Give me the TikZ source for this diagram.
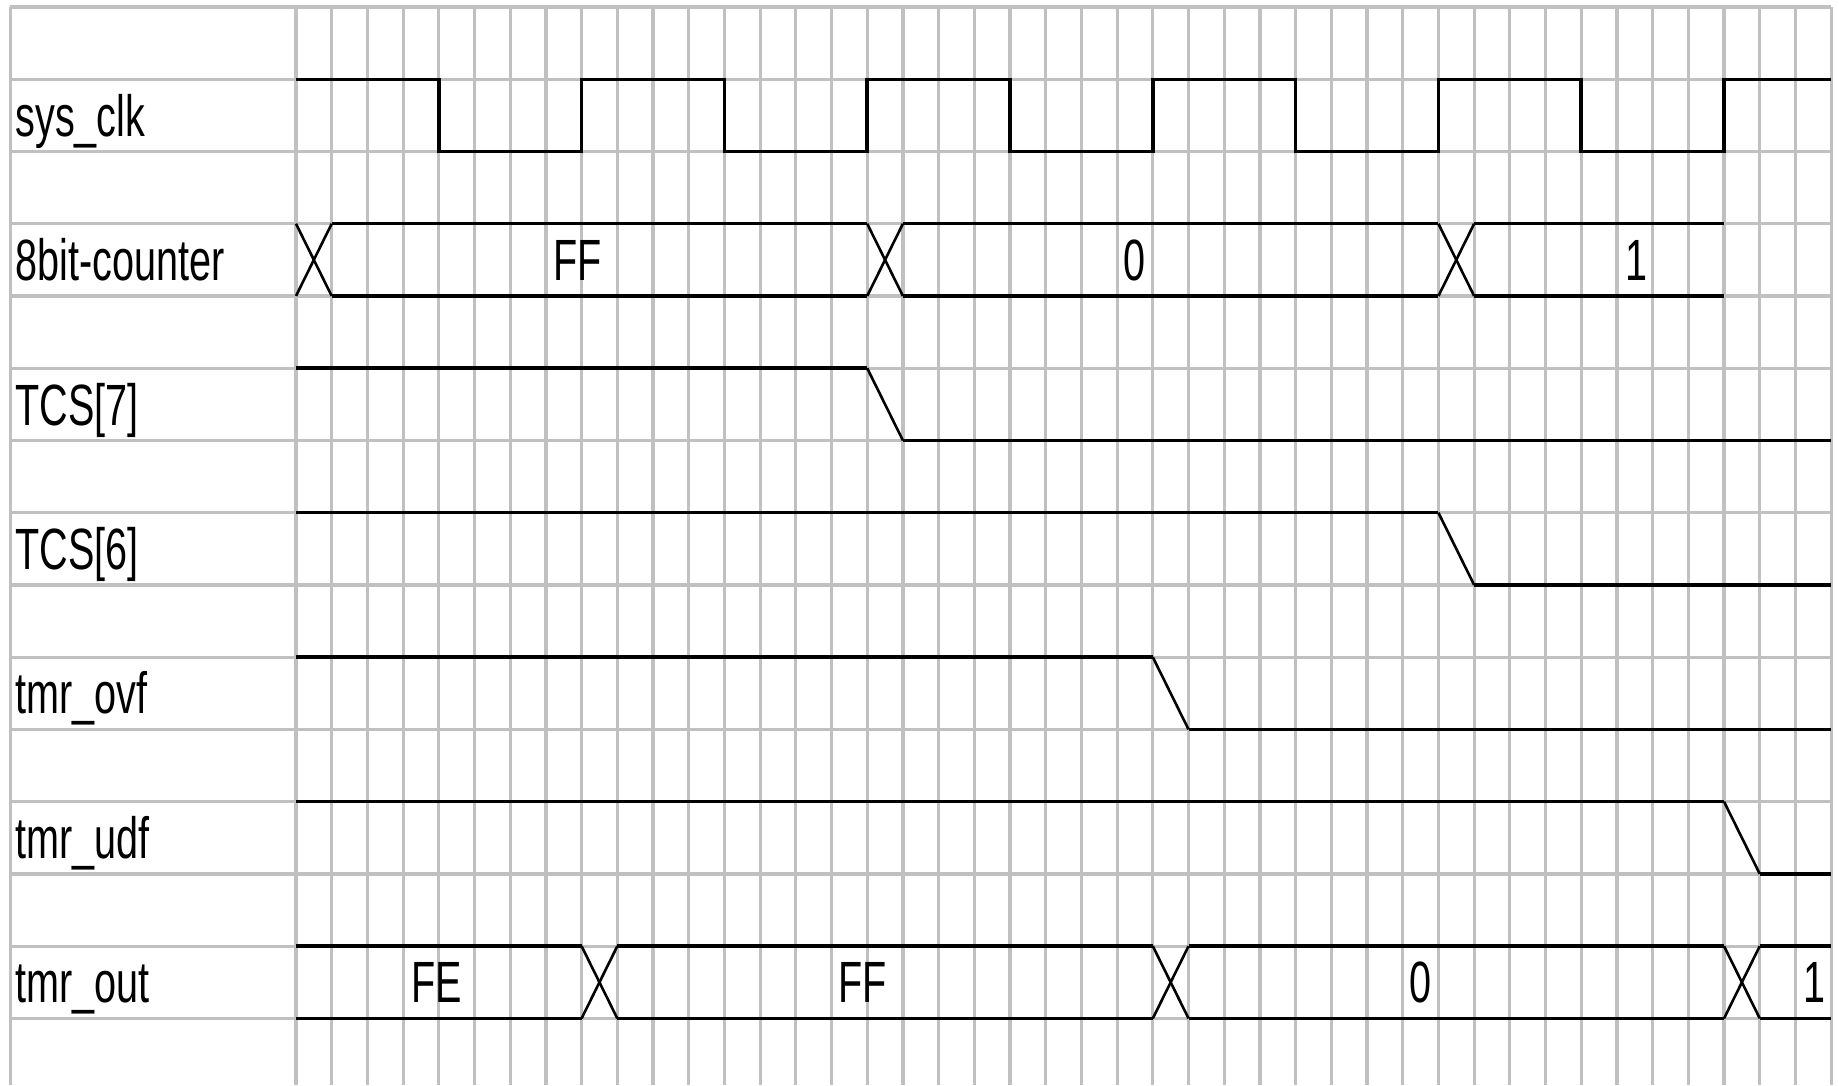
\documentclass[tikz,border=0pt]{standalone}
\usepackage{fontspec}
\usepackage{tikz}
\usetikzlibrary{positioning}
\usetikzlibrary{calc}

\newfontfamily\wavefamily[FakeStretch=0.68]{Liberation Sans}
\newcommand{\wavefont}{\wavefamily\fontsize{29.1pt}{34pt}\selectfont}
\definecolor{gridgray}{HTML}{C0C0C0}

\begin{document}
\begin{tikzpicture}[x=17.85pt, y=-36.12pt,
    every node/.style={font=\wavefont, inner sep=0pt, anchor=base},
    gridline/.style={draw=gridgray, line width=1.6pt},
    wave/.style={draw=black, line width=1.75pt},
    slope/.style={draw=black, line width=1.3pt}]

        % Frame of the whole sheet
        \useasboundingbox (-8.291, -0.097) rectangle (43.22, 14.922);

        % Last column and last row of the grid
        \def\ncols{43}
        \def\nrows{14}

        % Grey grid: rows over the full width, columns only right of the names
        \foreach \r in {0,...,\nrows} {
          \draw[gridline] (-8, \r) -- (\ncols, \r);
        }
        \foreach \c in {0,...,\ncols} {
          \draw[gridline] (\c, 0) -- (\c, 14.922);
        }
        \draw[gridline] (-8, 0) -- (-8, 14.922);

        % Signal names, each one on the upper row of its band
        \foreach \name/\r [count=\i] in {sys\_clk/1, 8bit-counter/3, TCS[7]/5, TCS[6]/7, tmr\_ovf/9, tmr\_udf/11, tmr\_out/13} {
          \node[anchor=base west] (name\i) at (-7.87, \r+0.786) {\name};
        }

        % sys_clk: four columns high, four columns low
        \draw[wave] (0, 1) \foreach \k in {0,...,4} {
          -- ({8*\k+4}, 1) -- ({8*\k+4}, 2) -- ({8*\k+8}, 2) -- ({8*\k+8}, 1)
        } -- (\ncols, 1);

        % 8bit-counter bus
        \foreach \a/\b in {1/16, 17/32, 33/40} {
          \draw[wave] (\a, 3) -- (\b, 3);
          \draw[wave] (\a, 4) -- (\b, 4);
        }
        \foreach \a in {0, 16, 32} {
          \draw[slope] (\a, 3) -- (\a+1, 4);
          \draw[slope] (\a, 4) -- (\a+1, 3);
        }
        \node (cntff) at (7.885, 3.786) {FF};
        \node (cntzero) at (23.5, 3.786) {0};
        \node (cntone) at (37.55, 3.786) {1};

        % Flags: high up to the edge, one column of slope, then low
        \foreach \r/\t in {5/16, 7/32, 9/24, 11/40} {
          \draw[wave] (0, \r) -- (\t, \r);
          \draw[slope] (\t, \r) -- (\t+1, \r+1);
          \draw[wave] (\t+1, \r+1) -- (\ncols, \r+1);
        }

        % tmr_out bus
        \foreach \a/\b in {0/8, 9/24, 25/40, 41/43} {
          \draw[wave] (\a, 13) -- (\b, 13);
          \draw[wave] (\a, 14) -- (\b, 14);
        }
        \foreach \a in {8, 24, 40} {
          \draw[slope] (\a, 13) -- (\a+1, 14);
          \draw[slope] (\a, 14) -- (\a+1, 13);
        }
        \node (outfe) at (3.93, 13.786) {FE};
        \node (outff) at (15.88, 13.786) {FF};
        \node (outzero) at (31.5, 13.786) {0};
        \node (outone) at (42.53, 13.786) {1};

      \end{tikzpicture}
\end{document}
